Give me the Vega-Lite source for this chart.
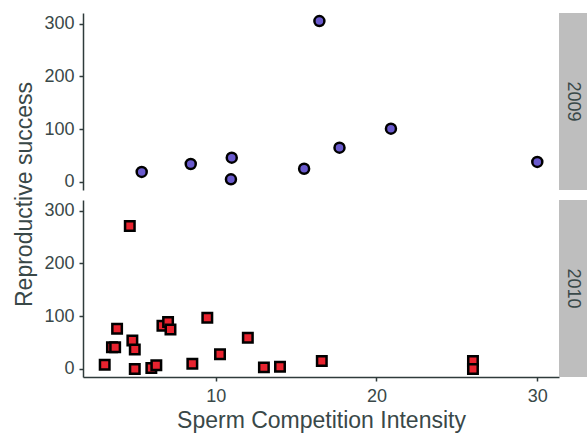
{
  "$schema": "https://vega.github.io/schema/vega-lite/v6.json",
  "background": "white",
  "padding": {"left": 13, "top": 11, "right": 0, "bottom": 4},
  "columns": 2,
  "spacing": {"row": 10, "column": 0},
  "bounds": "flush",
  "datasets": {
    "points": [
      {"year": "2009", "sci": 5.4, "rs": 19},
      {"year": "2009", "sci": 8.45, "rs": 34},
      {"year": "2009", "sci": 11.0, "rs": 46},
      {"year": "2009", "sci": 10.95, "rs": 5},
      {"year": "2009", "sci": 15.5, "rs": 25},
      {"year": "2009", "sci": 16.45, "rs": 305},
      {"year": "2009", "sci": 17.7, "rs": 65},
      {"year": "2009", "sci": 20.9, "rs": 101},
      {"year": "2009", "sci": 30.0, "rs": 38},
      {"year": "2010", "sci": 4.66, "rs": 271},
      {"year": "2010", "sci": 3.1, "rs": 8},
      {"year": "2010", "sci": 3.55, "rs": 41},
      {"year": "2010", "sci": 3.75, "rs": 41},
      {"year": "2010", "sci": 3.87, "rs": 76},
      {"year": "2010", "sci": 4.82, "rs": 54},
      {"year": "2010", "sci": 4.97, "rs": 37},
      {"year": "2010", "sci": 4.97, "rs": 0},
      {"year": "2010", "sci": 6.0, "rs": 2},
      {"year": "2010", "sci": 6.31, "rs": 7},
      {"year": "2010", "sci": 6.69, "rs": 82},
      {"year": "2010", "sci": 7.04, "rs": 89},
      {"year": "2010", "sci": 7.19, "rs": 75},
      {"year": "2010", "sci": 8.55, "rs": 10},
      {"year": "2010", "sci": 9.48, "rs": 97},
      {"year": "2010", "sci": 10.27, "rs": 28},
      {"year": "2010", "sci": 12.0, "rs": 59},
      {"year": "2010", "sci": 13.0, "rs": 3},
      {"year": "2010", "sci": 14.0, "rs": 4},
      {"year": "2010", "sci": 16.6, "rs": 15},
      {"year": "2010", "sci": 26.0, "rs": 15},
      {"year": "2010", "sci": 26.0, "rs": 0}
    ],
    "strips": [{"year": "2009"}, {"year": "2010"}]
  },
  "config": {
    "font": "Liberation Sans",
    "view": {"stroke": null},
    "axis": {
      "grid": false,
      "domainColor": "#2F3B3B",
      "domainWidth": 1.5,
      "tickColor": "#2F3B3B",
      "tickWidth": 1.5,
      "tickSize": 4,
      "labelColor": "#394848",
      "labelFontSize": 18,
      "labelPadding": 5,
      "titleColor": "#394848",
      "titleFontSize": 23,
      "titleFontWeight": "normal"
    }
  },
  "concat": [
    {
      "width": 476,
      "height": 177,
      "data": {"name": "points"},
      "transform": [{"filter": "datum.year === '2009'"}],
      "mark": {"type": "point", "shape": "circle", "filled": true, "fill": "#6A5ACD", "stroke": "black", "strokeWidth": 2.5, "size": 100, "opacity": 1},
      "encoding": {
        "x": {"field": "sci", "type": "quantitative", "scale": {"domain": [1.75, 31.35], "nice": false, "zero": false}, "axis": null},
        "y": {"field": "rs", "type": "quantitative", "scale": {"domain": [-15.25, 320.25], "nice": false, "zero": false},
              "axis": {"values": [0, 100, 200, 300], "title": "Reproductive success", "titleY": 181, "titlePadding": 7}}
      }
    },
    {
      "width": 28,
      "height": 177,
      "view": {"fill": "#BEBEBE", "stroke": null},
      "data": {"name": "strips"},
      "transform": [{"filter": "datum.year === '2009'"}],
      "mark": {"type": "text", "angle": 90, "fontSize": 18, "color": "#394848", "baseline": "middle", "align": "center"},
      "encoding": {"text": {"field": "year", "type": "nominal"}}
    },
    {
      "width": 476,
      "height": 177,
      "data": {"name": "points"},
      "transform": [{"filter": "datum.year === '2010'"}],
      "mark": {"type": "point", "shape": "square", "filled": true, "fill": "#E8232F", "stroke": "black", "strokeWidth": 2.5, "size": 90, "opacity": 1},
      "encoding": {
        "x": {"field": "sci", "type": "quantitative", "scale": {"domain": [1.75, 31.35], "nice": false, "zero": false},
              "axis": {"values": [10, 20, 30], "title": "Sperm Competition Intensity", "labelPadding": 6, "titlePadding": 4}},
        "y": {"field": "rs", "type": "quantitative", "scale": {"domain": [-15.25, 320.25], "nice": false, "zero": false},
              "axis": {"values": [0, 100, 200, 300], "title": null}}
      }
    },
    {
      "width": 28,
      "height": 177,
      "view": {"fill": "#BEBEBE", "stroke": null},
      "data": {"name": "strips"},
      "transform": [{"filter": "datum.year === '2010'"}],
      "mark": {"type": "text", "angle": 90, "fontSize": 18, "color": "#394848", "baseline": "middle", "align": "center"},
      "encoding": {"text": {"field": "year", "type": "nominal"}}
    }
  ]
}
